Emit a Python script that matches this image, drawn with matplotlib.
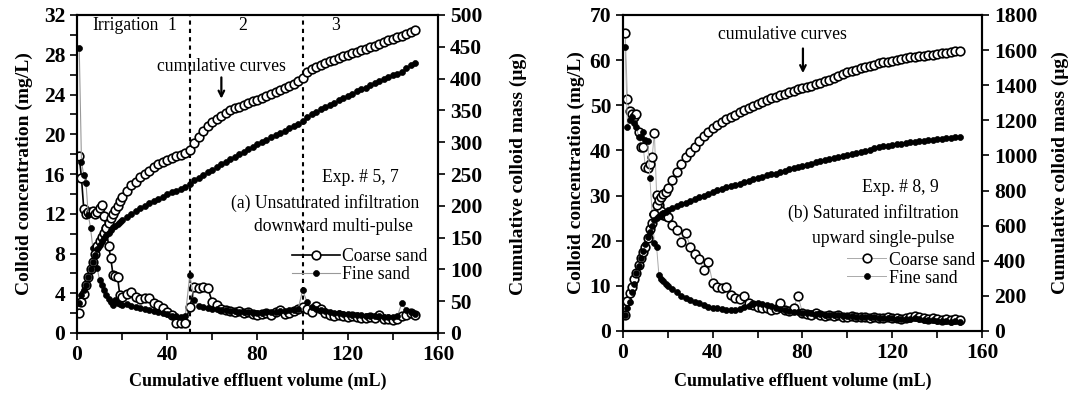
import matplotlib.pyplot as plt
from matplotlib.ticker import MultipleLocator

plt.rcParams['font.family'] = ['Liberation Serif', 'DejaVu Serif']
plt.rcParams['font.weight'] = 'bold'

# cumulative effluent volume (mL) of each sample, same grid in both panels
vol = [1, 2, 3, 4, 5, 6, 7, 8, 9, 10,
       11, 12, 13, 14, 15, 16, 17, 18, 19, 20,
       22, 24, 26, 28, 30, 32, 34, 36, 38, 40,
       42, 44, 46, 48, 50, 52, 54, 56, 58, 60,
       62, 64, 66, 68, 70, 72, 74, 76, 78, 80,
       82, 84, 86, 88, 90, 92, 94, 96, 98, 100,
       102, 104, 106, 108, 110, 112, 114, 116, 118, 120,
       122, 124, 126, 128, 130, 132, 134, 136, 138, 140,
       142, 144, 146, 148, 150]

# (a) unsaturated, downward multi-pulse: concentration (mg/L)
conc_coarse_a = [17.8, 15.6, 12.5, 12.0, 12.2, 12.2, 12.3, 12.0, 12.2, 12.6,
                 12.9, 11.8, 10.6, 8.8, 7.5, 5.8, 5.7, 5.6, 3.8, 3.6,
                 3.9, 4.1, 3.6, 3.4, 3.5, 3.5, 3.0, 2.8, 2.5, 2.1,
                 1.8, 1.0, 1.0, 1.0, 2.6, 4.6, 4.5, 4.6, 4.5, 3.1,
                 2.8, 2.4, 2.3, 2.2, 2.1, 2.2, 2.0, 2.1, 1.9, 1.8,
                 1.9, 2.0, 1.8, 2.1, 2.3, 1.9, 2.0, 2.2, 2.4, 2.6,
                 2.4, 2.1, 2.7, 2.4, 2.0, 1.8, 1.7, 1.8, 1.7, 1.6,
                 1.7, 1.6, 1.5, 1.5, 1.6, 1.5, 1.8, 1.4, 1.4, 1.3,
                 1.4, 1.7, 1.8, 2.0, 1.8]
conc_fine_a = [28.7, 17.2, 15.9, 15.1, 11.9, 10.6, 8.6, 8.4, 6.5, 5.3,
               4.8, 4.3, 3.8, 3.4, 3.1, 2.8, 3.3, 3.0, 2.9, 2.8,
               2.9, 2.7, 2.6, 2.5, 2.4, 2.3, 2.2, 2.1, 2.0, 1.9,
               1.7, 1.7, 1.6, 1.7, 5.8, 3.3, 2.7, 2.6, 2.5, 2.4,
               2.4, 2.3, 2.3, 2.2, 2.2, 2.1, 2.1, 2.1, 2.0, 2.0,
               2.0, 2.1, 2.1, 2.1, 2.2, 2.2, 2.3, 2.3, 2.4, 4.3,
               3.1, 2.6, 2.4, 2.3, 2.2, 2.1, 2.0, 2.0, 1.9, 1.9,
               1.8, 1.8, 1.8, 1.7, 1.7, 1.7, 1.7, 1.6, 1.6, 1.6,
               1.7, 3.0, 2.3, 2.1, 1.9]
# (a) cumulative colloid mass (ug)
mass_coarse_a = [31, 49, 62, 75, 88, 100, 112, 125, 137, 145,
                 151, 158, 165, 173, 181, 187, 193, 199, 207, 214,
                 224, 232, 238, 245, 250, 255, 261, 265, 269, 272,
                 275, 278, 280, 283, 288, 299, 308, 318, 325, 331,
                 336, 341, 346, 350, 353, 356, 359, 362, 364, 367,
                 370, 373, 376, 379, 382, 385, 388, 392, 396, 401,
                 410, 415, 419, 422, 425, 427, 430, 432, 435, 437,
                 440, 442, 445, 447, 450, 452, 455, 458, 460, 463,
                 465, 467, 470, 473, 476]
mass_fine_a = [47, 60, 68, 76, 88, 100, 112, 122, 132, 138,
               145, 150, 154, 158, 162, 166, 169, 172, 175, 178,
               183, 187, 192, 196, 200, 204, 207, 211, 214, 218,
               221, 224, 227, 230, 235, 240, 244, 249, 253, 257,
               261, 265, 269, 273, 277, 281, 285, 289, 293, 297,
               300, 304, 308, 311, 315, 318, 322, 325, 329, 334,
               340, 344, 348, 352, 355, 359, 362, 366, 369, 373,
               376, 380, 383, 386, 390, 393, 396, 399, 402, 405,
               408, 411, 416, 421, 424]

# (b) saturated, upward single-pulse: concentration (mg/L)
conc_coarse_b = [66.0, 51.4, 48.7, 48.0, 47.4, 48.1, 44.0, 40.8, 40.8, 36.3,
                 36.0, 37.0, 38.5, 43.9, 30.1, 27.9, 26.5, 25.8, 25.5, 25.3,
                 23.5, 22.4, 19.7, 21.7, 18.6, 17.0, 16.0, 13.5, 15.3, 10.6,
                 9.8, 9.5, 9.8, 8.0, 7.3, 7.0, 7.8, 6.2, 5.8, 5.3,
                 5.2, 5.0, 4.7, 4.8, 6.2, 4.7, 4.5, 5.0, 7.8, 4.0,
                 3.8, 3.6, 3.9, 3.5, 3.4, 3.6, 3.3, 3.5, 3.2, 3.1,
                 3.3, 3.0, 3.2, 3.0, 2.9, 3.1, 2.9, 2.8, 3.0, 2.9,
                 2.8, 2.7, 2.9, 3.2, 3.3, 3.0, 2.8, 2.6, 2.8, 2.7,
                 2.5, 2.7, 2.4, 2.6, 2.5]
conc_fine_b = [62.9, 45.2, 46.7, 47.5, 46.0, 45.2, 43.0, 43.0, 44.1, 42.3,
               42.0, 33.9, 26.0, 19.5, 18.6, 12.5, 11.5, 11.0, 10.5, 10.0,
               9.3, 8.6, 7.8, 7.3, 6.8, 6.4, 6.2, 5.8, 5.4, 5.2,
               5.0, 4.8, 4.7, 4.6, 4.7, 4.9, 5.3, 5.6, 6.0, 6.2,
               6.0, 5.8, 5.5, 5.2, 4.8, 4.7, 4.5, 4.3, 4.2, 4.0,
               3.9, 3.9, 3.8, 3.7, 3.6, 3.6, 3.5, 3.5, 3.4, 3.3,
               3.3, 3.2, 3.2, 3.1, 3.0, 3.0, 2.9, 2.9, 2.8, 2.8,
               2.7, 2.7, 2.6, 2.7, 2.8, 2.6, 2.5, 2.4, 2.4, 2.3,
               2.3, 2.2, 2.1, 2.2, 2.1]
# (b) cumulative colloid mass (ug)
mass_coarse_b = [91, 170, 215, 251, 295, 330, 375, 415, 450, 480,
                 530, 580, 615, 665, 720, 745, 765, 780, 792, 812,
                 860, 905, 950, 990, 1020, 1048, 1085, 1110, 1135, 1155,
                 1173, 1190, 1205, 1220, 1232, 1245, 1257, 1268, 1280, 1292,
                 1305, 1315, 1325, 1335, 1344, 1352, 1360, 1368, 1378, 1385,
                 1390, 1397, 1405, 1413, 1422, 1431, 1440, 1452, 1463, 1475,
                 1482, 1489, 1496, 1503, 1510, 1517, 1524, 1530, 1535, 1540,
                 1545, 1549, 1553, 1558, 1561, 1565, 1568, 1572, 1575, 1579,
                 1582, 1586, 1589, 1593, 1597]
mass_fine_b = [91, 130, 165, 220, 270, 330, 370, 415, 455, 495,
               535, 564, 600, 630, 645, 655, 663, 670, 678, 689,
               702, 712, 722, 731, 740, 752, 761, 770, 780, 790,
               803, 810, 818, 826, 831, 840, 848, 856, 864, 872,
               880, 888, 893, 897, 903, 913, 920, 928, 935, 942,
               948, 954, 960, 966, 972, 978, 984, 990, 996, 1002,
               1008, 1014, 1021, 1027, 1033, 1040, 1047, 1051, 1055, 1059,
               1063, 1067, 1071, 1075, 1078, 1080, 1083, 1086, 1088, 1091,
               1094, 1097, 1100, 1104, 1106]

fig = plt.figure(figsize=(10.75, 4), dpi=100)
ax_a = fig.add_axes([0.0716, 0.1675, 0.3358, 0.795])
ax_b = fig.add_axes([0.5795, 0.1725, 0.334, 0.79])

open_mk = dict(marker='o', mfc='white', mec='black', ms=6.2, mew=1.2)
dot_mk = dict(marker='o', mfc='black', mec='black', ms=4.3, mew=0.5)
xlabel_font = dict(fontsize=13, fontweight='bold')
ylabel_font = dict(fontsize=14, fontweight='bold')
note_font = dict(fontsize=12.7, fontweight='normal')


def style_axes(ax, ax2, ymax, ystep, ymax2, ystep2, label_x, label_y, yminor=None):
    ax.set_xlim(0, 160)
    ax.set_ylim(0, ymax)
    ax2.set_ylim(0, ymax2)
    ax.xaxis.set_major_locator(MultipleLocator(40))
    ax.xaxis.set_minor_locator(MultipleLocator(20))
    ax.yaxis.set_major_locator(MultipleLocator(ystep))
    if yminor:
        ax.yaxis.set_minor_locator(MultipleLocator(yminor))
    ax2.yaxis.set_major_locator(MultipleLocator(ystep2))
    for a in (ax, ax2):
        a.tick_params(which='both', direction='out', length=5, width=1.2, labelsize=15.5)
        for s in a.spines.values():
            s.set_linewidth(1.5)
    ax.set_xlabel('Cumulative effluent volume (mL)', **xlabel_font)
    ax.set_ylabel('Colloid concentration (mg/L)', **ylabel_font)
    ax2.set_ylabel('Cumulative colloid mass (μg)', **ylabel_font)
    ax.xaxis.set_label_coords(0.5, label_y)
    ax.yaxis.set_label_coords(label_x[0], 0.5)
    ax2.yaxis.set_label_coords(label_x[1], 0.5)


# ---- panel (a)
ax2_a = ax_a.twinx()
l1, = ax_a.plot(vol, conc_coarse_a, color='black', lw=1.2, **open_mk, zorder=3)
l2, = ax_a.plot(vol, conc_fine_a, color='#999999', lw=0.8, **dot_mk, zorder=4)
ax2_a.plot(vol, mass_coarse_a, ls='none', **open_mk)
ax2_a.plot(vol, mass_fine_a, ls='none', **dot_mk)
for xv in (50, 100):
    ax_a.axvline(xv, color='black', ls=(0, (2, 2)), lw=1.5, zorder=1)
style_axes(ax_a, ax2_a, 32, 4, 500, 50, (-0.122, 1.199), -0.126, yminor=2)

ax_a.text(6.7, 30.9, 'Irrigation', ha='left', va='center', **note_font)
for xv, t in ((42.2, '1'), (73.3, '2'), (114.7, '3')):
    ax_a.text(xv, 30.9, t, ha='center', va='center', **note_font)
ax_a.text(64, 26.8, 'cumulative curves', ha='center', va='center', **note_font)
ax_a.annotate('', xy=(64, 23.3), xytext=(64, 26.0),
              arrowprops=dict(arrowstyle='->', lw=1.6, color='black'))
ax_a.text(125.8, 15.6, 'Exp. # 5, 7', ha='center', va='center', **note_font)
ax_a.text(151.6, 13.1, '(a) Unsaturated infiltration', ha='right', va='center', **note_font)
ax_a.text(113.5, 10.7, 'downward multi-pulse', ha='center', va='center', **note_font)
leg_a = ax_a.legend([l1, l2], ['Coarse sand', 'Fine sand'], loc='center left',
                    bbox_to_anchor=(0.596, 0.211), frameon=False, handlelength=2.7,
                    handletextpad=0.15, labelspacing=0.05, borderpad=0, borderaxespad=0,
                    prop=dict(size=12.7, weight='normal'))
leg_a.set_zorder(10)

# ---- panel (b)
ax2_b = ax_b.twinx()
m1, = ax_b.plot(vol, conc_coarse_b, color='#aaaaaa', lw=0.7, **open_mk, zorder=3)
m2, = ax_b.plot(vol, conc_fine_b, color='#aaaaaa', lw=0.7, **dot_mk, zorder=4)
ax2_b.plot(vol, mass_coarse_b, ls='none', **open_mk)
ax2_b.plot(vol, mass_fine_b, ls='none', **dot_mk)
style_axes(ax_b, ax2_b, 70, 10, 1800, 200, (-0.106, 1.195), -0.133)

ax_b.text(70.9, 65.6, 'cumulative curves', ha='center', va='center', **note_font)
ax_b.annotate('', xy=(80.2, 56.5), xytext=(80.2, 63.2),
              arrowprops=dict(arrowstyle='->', lw=1.6, color='black'))
ax_b.text(123.4, 31.7, 'Exp. # 8, 9', ha='center', va='center', **note_font)
ax_b.text(111.5, 26.1, '(b) Saturated infiltration', ha='center', va='center', **note_font)
ax_b.text(116, 20.6, 'upward single-pulse', ha='center', va='center', **note_font)
leg_b = ax_b.legend([m1, m2], ['Coarse sand', 'Fine sand'], loc='center left',
                    bbox_to_anchor=(0.625, 0.196), frameon=False, handlelength=2.2,
                    handletextpad=0.15, labelspacing=0.05, borderpad=0, borderaxespad=0,
                    prop=dict(size=12.8, weight='normal'))
leg_b.set_zorder(10)

fig.savefig('out.png', dpi=100)
